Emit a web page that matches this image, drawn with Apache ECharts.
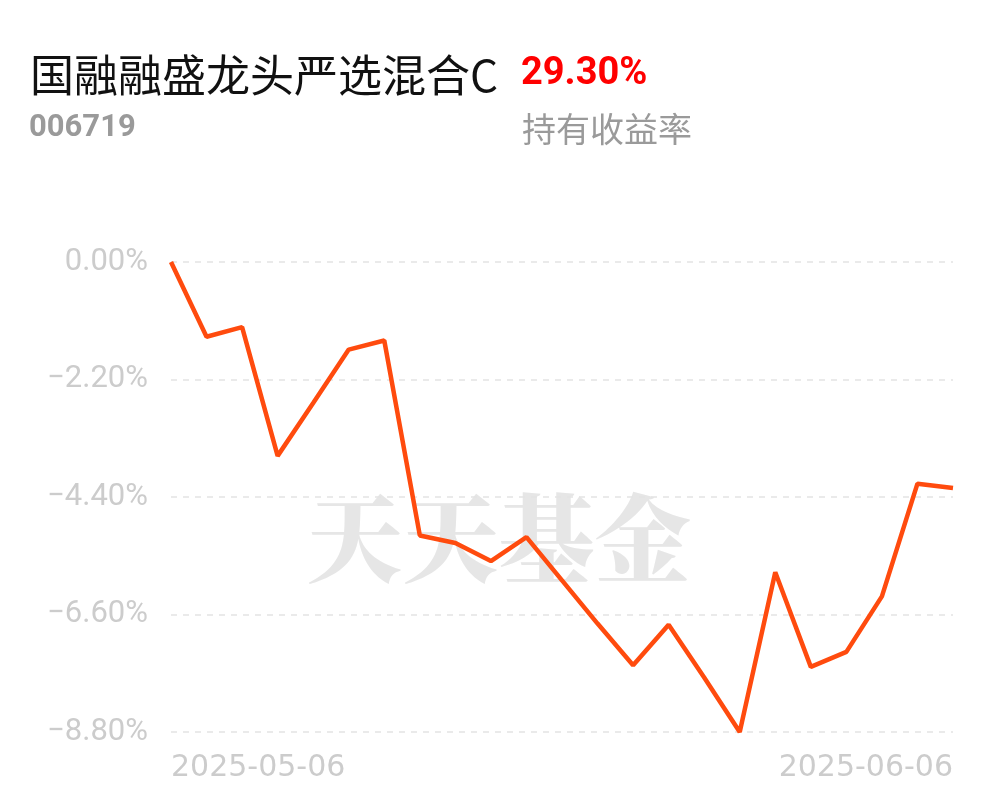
<!DOCTYPE html>
<html>
<head>
<meta charset="utf-8">
<script src="https://cdn.jsdelivr.net/npm/echarts@6/dist/echarts.min.js"></script>
<style>
html,body{margin:0;padding:0;background:#fff;}
#chart{width:997px;height:802px;}
</style>
</head>
<body>
<div id="chart"></div>
<script>
const fundName = '国融融盛龙头严选混合C';
const fundCode = '006719';
const holdReturn = '29.30%';
const holdReturnLabel = '持有收益率';
const watermark = '天天基金';

const dates = [
  '2025-05-06','2025-05-07','2025-05-08','2025-05-09',
  '2025-05-12','2025-05-13','2025-05-14','2025-05-15','2025-05-16',
  '2025-05-19','2025-05-20','2025-05-21','2025-05-22','2025-05-23',
  '2025-05-26','2025-05-27','2025-05-28','2025-05-29','2025-05-30',
  '2025-06-03','2025-06-04','2025-06-05','2025-06-06'
];
const returns = [
  0.00, -1.40, -1.22, -3.63,
  -2.64, -1.64, -1.47, -5.12, -5.26,
  -5.60, -5.15, -5.96, -6.77, -7.55,
  -6.79, -7.78, -8.80, -5.81, -7.58,
  -7.30, -6.26, -4.15, -4.23
];
const yMin = -8.8, yMax = 0, yStep = 2.2;

const chart = echarts.init(document.getElementById('chart'));
const lastIdx = dates.length - 1;
chart.setOption({
  animation: false,
  backgroundColor: '#fff',
  grid: { left: 171, right: 44, top: 262, bottom: 70, containLabel: false },
  graphic: [
    { type: 'text', left: 30, top: 53, z: 10,
      style: { text: fundName, fill: '#111', font: '400 44px "Noto Sans CJK SC", sans-serif' } },
    { type: 'text', left: 521, top: 55, z: 10,
      style: { text: holdReturn, fill: '#f00', font: 'bold 38px Roboto, "Noto Sans", sans-serif' } },
    { type: 'text', left: 29, top: 113, z: 10,
      style: { text: fundCode, fill: '#9a9a9a', font: 'bold 31px Roboto, "Noto Sans", sans-serif' } },
    { type: 'text', left: 522, top: 112, z: 10,
      style: { text: holdReturnLabel, fill: '#9a9a9a', font: '400 34px "Noto Sans CJK SC", sans-serif' } },
    { type: 'text', left: 'center', top: 490, z: -1, silent: true,
      style: { text: watermark, fill: '#e6e6e6', font: '900 96px "Noto Serif CJK SC", "Noto Sans CJK SC", serif' } }
  ],
  xAxis: {
    type: 'category',
    data: dates,
    boundaryGap: false,
    axisLine: { show: false },
    axisTick: { show: false },
    splitLine: { show: false },
    axisLabel: {
      interval: function (i) { return i === 0 || i === lastIdx; },
      showMinLabel: true, showMaxLabel: true,
      alignMinLabel: 'left', alignMaxLabel: 'right',
      color: '#cccccc',
      fontSize: 30,
      fontFamily: '"DejaVu Sans", sans-serif',
      margin: 21
    }
  },
  yAxis: {
    type: 'value',
    min: yMin, max: yMax, interval: yStep,
    axisLine: { show: false },
    axisTick: { show: false },
    splitLine: { show: true, lineStyle: { color: '#e3e3e3', type: [6, 6], width: 1.5 } },
    axisLabel: {
      color: '#cccccc',
      fontSize: 31,
      fontFamily: 'Roboto, "Noto Sans", sans-serif',
      margin: 23,
      formatter: function (v) { return v.toFixed(2).replace('-', '\u2212') + '%'; }
    }
  },
  series: [{
    type: 'line',
    data: returns,
    showSymbol: false,
    symbol: 'none',
    z: 5,
    lineStyle: { color: '#ff4b0e', width: 4.5 }
  }]
});
</script>
</body>
</html>
